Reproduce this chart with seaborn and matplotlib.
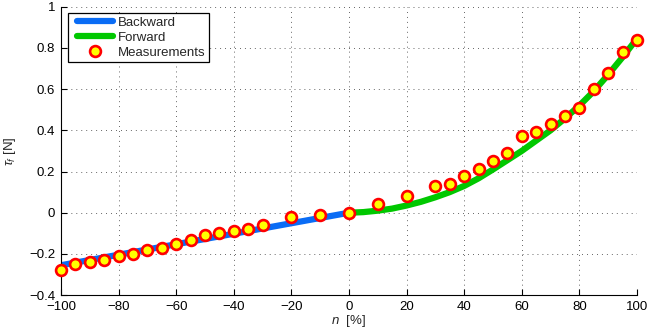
import matplotlib
matplotlib.use("Agg")
import matplotlib.pyplot as plt
from matplotlib.lines import Line2D
from matplotlib.legend_handler import HandlerLine2D
import seaborn as sns
import pandas as pd

# Backward model (linear branch)
n_backward = [-100, -80, -60, -40, -20, 0]
tau_backward = [-0.255, -0.204, -0.153, -0.102, -0.051, 0.0]

# Forward model (nonlinear branch)
n_forward = [0, 5, 10, 15, 20, 25, 30, 35, 40, 45, 50, 55, 60, 65, 70, 75, 80, 85, 90, 95, 100]
tau_forward = [0.0, 0.003, 0.01, 0.02, 0.035, 0.053, 0.075, 0.10, 0.13, 0.167, 0.21,
               0.255, 0.30, 0.35, 0.40, 0.458, 0.52, 0.59, 0.67, 0.755, 0.845]

# Measured thrust
n_meas = [-100, -95, -90, -85, -80, -75, -70, -65, -60, -55, -50, -45, -40, -35, -30,
          -20, -10, 0, 10, 20, 30, 35, 40, 45, 50, 55, 60, 65, 70, 75, 80, 85, 90, 95, 100]
tau_meas = [-0.28, -0.25, -0.24, -0.23, -0.21, -0.20, -0.18, -0.17, -0.15, -0.13, -0.11,
            -0.10, -0.09, -0.08, -0.06, -0.02, -0.01, 0.0, 0.04, 0.08, 0.13, 0.14, 0.18,
            0.21, 0.25, 0.29, 0.37, 0.39, 0.43, 0.47, 0.51, 0.60, 0.68, 0.78, 0.84]

x_ticks = [-100, -80, -60, -40, -20, 0, 20, 40, 60, 80, 100]
y_ticks = [-0.4, -0.2, 0, 0.2, 0.4, 0.6, 0.8, 1]

sns.set_style("ticks")
plt.rcParams["font.family"] = ["Liberation Sans", "DejaVu Sans"]
plt.rcParams["mathtext.fontset"] = "custom"
plt.rcParams["mathtext.rm"] = "Liberation Sans"
plt.rcParams["mathtext.it"] = "Liberation Sans:italic"

BLUE = "#0a6cf5"
GREEN = "#00c800"
FS = 9.5

fig = plt.figure(figsize=(6.48, 3.35), dpi=100)
ax = fig.add_axes([0.094, 0.119, 0.889, 0.861])

df_b = pd.DataFrame({"n": n_backward, "tau": tau_backward})
df_f = pd.DataFrame({"n": n_forward, "tau": tau_forward})

sns.lineplot(data=df_b, x="n", y="tau", ax=ax, color=BLUE, lw=4.5,
             solid_capstyle="butt", sort=True, zorder=2)
sns.lineplot(data=df_f, x="n", y="tau", ax=ax, color=GREEN, lw=4.5,
             solid_capstyle="butt", sort=True, zorder=2)
ax.plot(n_meas, tau_meas, ls="none", marker="o", ms=7.8, mfc="#ffff00",
        mec="#ff0000", mew=1.9, zorder=3, clip_on=False)

ax.set_xlim(-100, 100)
ax.set_ylim(-0.4, 1)
ax.set_xticks(x_ticks)
ax.set_yticks(y_ticks)
ax.set_xticklabels([str(v).replace("-", "\u2212") for v in x_ticks])
ax.set_yticklabels([("%g" % v).replace("-", "\u2212") for v in y_ticks])
ax.tick_params(direction="in", length=4, width=0.8, labelsize=FS, color="k",
               labelcolor="k")
ax.tick_params(axis="x", pad=4)
ax.tick_params(axis="y", pad=4)

ax.grid(True, color="#555555", lw=0.7, ls=(0, (0.9, 4.2)))
for side in ["top", "right"]:
    ax.spines[side].set_visible(False)
for side in ["left", "bottom"]:
    ax.spines[side].set_color("k")
    ax.spines[side].set_linewidth(0.8)

ax.set_xlabel(r"$n$  [%]", fontsize=FS, labelpad=0)
ax.set_ylabel(r"$\tau_f$ [N]", fontsize=FS, labelpad=8)

handles = [
    Line2D([], [], color=BLUE, lw=4.5),
    Line2D([], [], color=GREEN, lw=4.5),
    Line2D([], [], ls="none", marker="o", ms=7.8, mfc="#ffff00", mec="#ff0000", mew=1.9),
]
leg = ax.legend(handles, ["Backward", "Forward", "Measurements"], loc="upper left",
                fontsize=FS, frameon=True, fancybox=False, edgecolor="k",
                framealpha=1, borderpad=0.25, labelspacing=0.2, handlelength=3.2,
                handletextpad=0.4, borderaxespad=0.5, bbox_to_anchor=(0.0, 1.0),
                handler_map={Line2D: HandlerLine2D(xpad=0.45)})
leg.get_frame().set_linewidth(0.9)

fig.savefig("out.png", dpi=100)
